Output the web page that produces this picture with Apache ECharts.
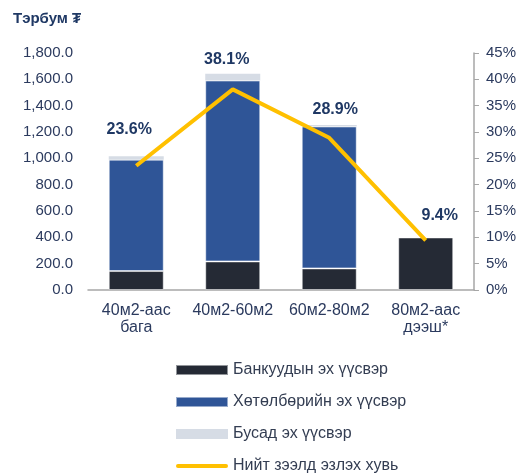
<!DOCTYPE html>
<html>
<head>
<meta charset="utf-8">
<script src="https://cdn.jsdelivr.net/npm/echarts@6/dist/echarts.min.js"></script>
<style>
    html, body { margin: 0; padding: 0; background: #fff; }
    #chart { width: 519px; height: 474px; }
</style>
</head>
<body>
<div id="chart"></div>
<script>
    // categories and values
    var categories = ['40м2-аас\nбага', '40м2-60м2', '60м2-80м2', '80м2-аас\nдээш*'];
    var bankValues = [144, 217, 164, 399];
    var programValues = [846, 1374, 1078, 0];
    var otherValues = [25, 51, 12, 0];
    var shareValues = [23.6, 38.1, 28.9, 9.4];

    var leftTicks = { min: 0, max: 1800, interval: 200 };
    var rightTicks = { min: 0, max: 45, interval: 5 };

    // label nudges so the percent labels sit where the original has them
    var labelOffsets = [[-7, -36], [-6, -30], [6, -28], [14, -25]];

    var navy = '#2b3a5e';
    var axisGrey = '#a6a6a6';

    var chart = echarts.init(document.getElementById('chart'));
    chart.setOption({
        animation: false,
        textStyle: { fontFamily: 'Arial, "Liberation Sans", "DejaVu Sans", sans-serif' },
        title: {
            text: 'Тэрбум ₮',
            left: 8,
            top: 6,
            textStyle: { fontSize: 15, fontWeight: 'bold', color: '#1f3864' }
        },
        legend: {
            orient: 'vertical',
            left: 175,
            top: 362,
            padding: 0,
            itemWidth: 52,
            itemHeight: 10,
            itemGap: 16,
            textStyle: { fontSize: 16, color: '#333d52' },
            data: [
                { name: 'Банкуудын эх үүсвэр', icon: 'rect' },
                { name: 'Хөтөлбөрийн эх үүсвэр', icon: 'rect' },
                { name: 'Бусад эх үүсвэр', icon: 'rect' },
                { name: 'Нийт зээлд эзлэх хувь', icon: 'path://M2,0L50,0A2,2,0,0,1,50,4L2,4A2,2,0,0,1,2,0Z' }
            ]
        },
        grid: { left: 88, right: 44, top: 53, bottom: 184 },
        xAxis: {
            type: 'category',
            data: categories,
            axisLine: { lineStyle: { color: axisGrey, width: 1.5 } },
            axisTick: { show: false },
            axisLabel: { interval: 0, fontSize: 16, color: navy, lineHeight: 17, margin: 12 }
        },
        yAxis: [
            {
                type: 'value',
                min: leftTicks.min,
                max: leftTicks.max,
                interval: leftTicks.interval,
                axisLine: { show: false },
                axisTick: { show: false },
                splitLine: { show: false },
                axisLabel: {
                    fontSize: 15,
                    color: navy,
                    margin: 15,
                    formatter: function (v) {
                        return v.toLocaleString('en-US', { minimumFractionDigits: 1, maximumFractionDigits: 1 });
                    }
                }
            },
            {
                type: 'value',
                position: 'right',
                min: rightTicks.min,
                max: rightTicks.max,
                interval: rightTicks.interval,
                axisLine: { show: true, lineStyle: { color: axisGrey, width: 1.5 } },
                axisTick: { show: true, length: 5, lineStyle: { color: axisGrey } },
                splitLine: { show: false },
                axisLabel: { fontSize: 15, color: navy, margin: 12, formatter: '{value}%' }
            }
        ],
        series: [
            {
                name: 'Банкуудын эх үүсвэр',
                type: 'bar',
                stack: 'total',
                barWidth: 55,
                itemStyle: { color: '#252a35', borderColor: 'rgba(255,255,255,0.5)', borderWidth: 1 },
                data: bankValues
            },
            {
                name: 'Хөтөлбөрийн эх үүсвэр',
                type: 'bar',
                stack: 'total',
                barWidth: 55,
                itemStyle: { color: '#2f5597', borderColor: 'rgba(255,255,255,0.5)', borderWidth: 1 },
                data: programValues
            },
            {
                name: 'Бусад эх үүсвэр',
                type: 'bar',
                stack: 'total',
                barWidth: 55,
                itemStyle: { color: '#d6dce5' },
                data: otherValues
            },
            {
                name: 'Нийт зээлд эзлэх хувь',
                type: 'line',
                yAxisIndex: 1,
                symbol: 'circle',
                symbolSize: 0,
                lineStyle: { color: '#ffc000', width: 4 },
                itemStyle: { color: '#ffc000' },
                label: {
                    show: true,
                    position: 'inside',
                    fontSize: 16,
                    fontWeight: 'bold',
                    color: '#1f3864',
                    formatter: '{c}%'
                },
                data: shareValues.map(function (v, i) {
                    return { value: v, label: { offset: labelOffsets[i] } };
                })
            }
        ]
    });
</script>
</body>
</html>
